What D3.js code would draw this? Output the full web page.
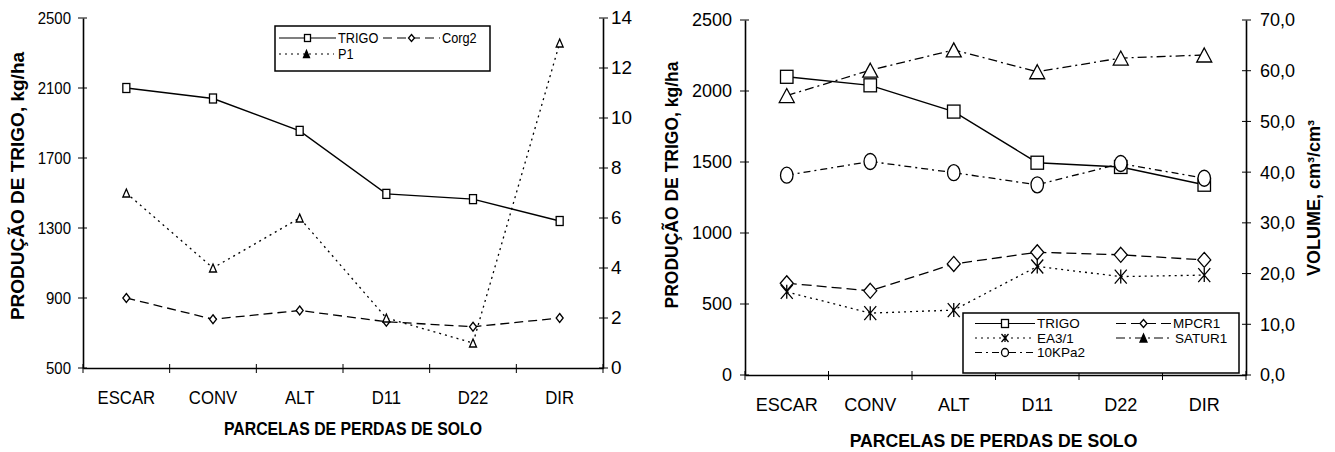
<!DOCTYPE html>
<html>
<head>
<meta charset="utf-8">
<script src="https://cdn.jsdelivr.net/npm/d3@7"></script>
<style>
  html, body { margin: 0; padding: 0; background: #fff; }
  svg { display: block; font-family: "Liberation Sans", Arial, sans-serif; }
</style>
</head>
<body>
<svg id="chart" width="1335" height="452"></svg>
<script>
// Plot categories (soil-loss plots)
const categories = ["ESCAR", "CONV", "ALT", "D11", "D22", "DIR"];

// Wheat yield, kg/ha (left axis of both panels)
const trigo = [2100, 2040, 1855, 1495, 1465, 1340];

// Left panel, secondary axis
const corg2 = [2.8, 1.95, 2.3, 1.85, 1.65, 2.0];
const p1 = [7.0, 4.0, 6.0, 2.0, 1.0, 13.0];

// Right panel, volume axis (cm³/cm³)
const mpcr1 = [18.1, 16.6, 21.9, 24.2, 23.7, 22.7];
const ea31 = [16.4, 12.2, 12.8, 21.4, 19.4, 19.7];
const kpa10 = [39.4, 42.1, 39.9, 37.5, 41.7, 38.8];
const satur1 = [55.1, 60.1, 64.1, 59.8, 62.5, 63.1];

// Tick labels
const ticksLeftA = [500, 900, 1300, 1700, 2100, 2500];
const ticksRightA = [0, 2, 4, 6, 8, 10, 12, 14];
const ticksLeftB = [0, 500, 1000, 1500, 2000, 2500];
const ticksRightB = [0, 10, 20, 30, 40, 50, 60, 70];

const xTitle = "PARCELAS DE PERDAS DE SOLO";
const yTitleLeft = "PRODUÇÃO DE TRIGO, kg/ha";
const yTitleRight = "VOLUME, cm³/cm³";

const svg = d3.select("#chart");
const fmtComma = v => d3.format(".1f")(v).replace(".", ",");

// text helper: positioned group so glyphs can be narrowed horizontally
function label(g, x, y, txt, o = {}) {
  const rot = o.rotate ? ` rotate(${o.rotate})` : "";
  const sx = o.sx || 1;
  return g.append("text")
    .attr("transform", `translate(${x},${y})${rot} scale(${sx},1)`)
    .attr("text-anchor", o.anchor || "middle")
    .attr("font-size", o.size || 16)
    .attr("font-weight", o.bold ? "bold" : "normal")
    .attr("letter-spacing", o.ls || 0)
    .attr("fill", "#000")
    .text(txt);
}

// marker shapes
function marker(g, type, cx, cy, w, h, sw, fill) {
  const m = g.append("g").attr("fill", fill || "#fff").attr("stroke", "#000").attr("stroke-width", sw || 1.3);
  if (type === "square") {
    m.append("rect").attr("x", cx - w / 2).attr("y", cy - h / 2).attr("width", w).attr("height", h);
  } else if (type === "circle") {
    m.append("ellipse").attr("cx", cx).attr("cy", cy).attr("rx", w / 2).attr("ry", h / 2);
  } else if (type === "diamond") {
    m.append("path").attr("d", `M${cx},${cy - h / 2}L${cx + w / 2},${cy}L${cx},${cy + h / 2}L${cx - w / 2},${cy}Z`);
  } else if (type === "triangle") {
    m.append("path").attr("d", `M${cx},${cy - h / 2}L${cx + w / 2},${cy + h / 2}L${cx - w / 2},${cy + h / 2}Z`);
  } else if (type === "asterisk") {
    m.append("path").attr("fill", "none")
      .attr("d", `M${cx - w / 2},${cy - h / 2}L${cx + w / 2},${cy + h / 2}M${cx + w / 2},${cy - h / 2}L${cx - w / 2},${cy + h / 2}M${cx},${cy - h / 2}L${cx},${cy + h / 2}`);
  }
}

function drawPanel(cfg) {
  const g = svg.append("g");
  const x = d3.scaleBand().domain(categories).range([cfg.x0, cfg.x1]);
  const yL = d3.scaleLinear().domain(cfg.yLDomain).range([cfg.yBottom, cfg.yTop]);
  const yR = d3.scaleLinear().domain(cfg.yRDomain).range([cfg.yBottom, cfg.yTop]);
  const cx = c => x(c) + x.bandwidth() / 2;

  // left axis
  const axL = g.append("g").attr("transform", `translate(${cfg.x0},0)`)
    .call(d3.axisLeft(yL).tickValues(cfg.ticksL).tickSize(0).tickFormat(""));
  axL.select(".domain").attr("stroke", "#000").attr("stroke-width", 1.6);
  cfg.ticksL.forEach(t => {
    g.append("line").attr("x1", cfg.x0 - 5).attr("x2", cfg.x0 + 4)
      .attr("y1", yL(t)).attr("y2", yL(t)).attr("stroke", "#000").attr("stroke-width", 1);
    label(g, cfg.x0 - cfg.lGap, yL(t) + cfg.lTick.size * 0.36, String(t),
      { anchor: "end", size: cfg.lTick.size, sx: cfg.lTick.sx });
  });

  // right axis
  const axR = g.append("g").attr("transform", `translate(${cfg.x1},0)`)
    .call(d3.axisRight(yR).tickValues(cfg.ticksR).tickSize(0).tickFormat(""));
  axR.select(".domain").attr("stroke", "#000").attr("stroke-width", 1.6);
  cfg.ticksR.forEach(t => {
    g.append("line").attr("x1", cfg.x1 - 4).attr("x2", cfg.x1 + 5)
      .attr("y1", yR(t)).attr("y2", yR(t)).attr("stroke", "#000").attr("stroke-width", 1);
    label(g, cfg.x1 + cfg.rGap, yR(t) + cfg.rTick.size * 0.36, cfg.rFormat(t),
      { anchor: "start", size: cfg.rTick.size, sx: cfg.rTick.sx });
  });

  // bottom axis
  const axB = g.append("g").attr("transform", `translate(0,${cfg.yBottom})`)
    .call(d3.axisBottom(x).tickSize(0).tickFormat(""));
  axB.select(".domain").attr("stroke", "#000").attr("stroke-width", 1.6);
  const bounds = categories.map(c => x(c)).concat([cfg.x1]);
  bounds.forEach(b => {
    g.append("line").attr("x1", b).attr("x2", b)
      .attr("y1", cfg.yBottom - 4).attr("y2", cfg.yBottom + 5)
      .attr("stroke", "#000").attr("stroke-width", 1);
  });
  categories.forEach(c => {
    label(g, cx(c), cfg.yBottom + cfg.catDy, c, { size: cfg.cat.size, sx: cfg.cat.sx });
  });

  // titles
  label(g, (cfg.x0 + cfg.x1) / 2 + cfg.xTitleDx, cfg.yBottom + cfg.xTitleDy, xTitle,
    { size: cfg.xTitle.size, sx: cfg.xTitle.sx, bold: true });
  label(g, cfg.yTitleL.x, cfg.yTitleL.y, yTitleLeft,
    { size: cfg.yTitleL.size, bold: true, rotate: -90 });
  if (cfg.yTitleR) {
    label(g, cfg.yTitleR.x, cfg.yTitleR.y, yTitleRight,
      { size: cfg.yTitleR.size, bold: true, rotate: -90 });
  }

  // series lines
  cfg.series.forEach(s => {
    const y = s.axis === "L" ? yL : yR;
    const line = d3.line().x((d, i) => cx(categories[i])).y(d => y(d));
    g.append("path").datum(s.values).attr("d", line)
      .attr("fill", "none").attr("stroke", "#000").attr("stroke-width", s.width || 1.3)
      .attr("stroke-dasharray", s.dash || null);
  });
  // series markers
  cfg.series.forEach(s => {
    const y = s.axis === "L" ? yL : yR;
    s.values.forEach((v, i) => marker(g, s.marker, cx(categories[i]), y(v), s.mw, s.mh, s.msw));
  });

  // legend
  const L = cfg.legend;
  g.append("rect").attr("x", L.x).attr("y", L.y).attr("width", L.w).attr("height", L.h)
    .attr("fill", "#fff").attr("stroke", "#000").attr("stroke-width", 1.5);
  L.items.forEach(it => {
    const s = cfg.series.find(d => d.name === it.name);
    g.append("line").attr("x1", it.lx0).attr("x2", it.lx1).attr("y1", it.y).attr("y2", it.y)
      .attr("stroke", "#000").attr("stroke-width", 1.2).attr("stroke-dasharray", s.dash || null);
    marker(g, s.marker, (it.lx0 + it.lx1) / 2, it.y, L.mw, L.mh, 1.3,
      s.marker === "triangle" ? "#000" : "#fff");
    label(g, it.tx, it.y + L.size * 0.36, s.name, { anchor: "start", size: L.size, sx: L.sx });
  });
}

// Left panel: yield vs organic carbon and phosphorus
drawPanel({
  x0: 83, x1: 603, yTop: 18, yBottom: 368,
  yLDomain: [500, 2500], yRDomain: [0, 14],
  ticksL: ticksLeftA, ticksR: ticksRightA, rFormat: v => String(v),
  lGap: 12, rGap: 8,
  lTick: { size: 17, sx: 0.88 }, rTick: { size: 18, sx: 1.05 },
  cat: { size: 19, sx: 0.88 }, catDy: 36,
  xTitle: { size: 18, sx: 0.88 }, xTitleDx: 10, xTitleDy: 67,
  yTitleL: { x: 24, y: 186, size: 19 },
  series: [
    { name: "TRIGO", values: trigo, axis: "L", marker: "square", mw: 7, mh: 9, width: 1.4 },
    { name: "Corg2", values: corg2, axis: "R", marker: "diamond", mw: 7, mh: 9, dash: "9,5" },
    { name: "P1", values: p1, axis: "R", marker: "triangle", mw: 7, mh: 8, dash: "2,4" }
  ],
  legend: {
    x: 275, y: 26, w: 215, h: 45, size: 15, sx: 0.85, mw: 6, mh: 7,
    items: [
      { name: "TRIGO", lx0: 279, lx1: 336, y: 38, tx: 338 },
      { name: "Corg2", lx0: 383, lx1: 440, y: 38, tx: 442 },
      { name: "P1", lx0: 279, lx1: 334, y: 54, tx: 338 }
    ]
  }
});

// Right panel: yield vs soil physical properties
drawPanel({
  x0: 745, x1: 1246, yTop: 20, yBottom: 375,
  yLDomain: [0, 2500], yRDomain: [0, 70],
  ticksL: ticksLeftB, ticksR: ticksRightB, rFormat: fmtComma,
  lGap: 13, rGap: 14,
  lTick: { size: 18, sx: 1 }, rTick: { size: 18, sx: 1 },
  cat: { size: 19, sx: 0.95 }, catDy: 36,
  xTitle: { size: 18, sx: 0.98 }, xTitleDx: -2, xTitleDy: 72,
  yTitleL: { x: 678, y: 185, size: 17.5 },
  yTitleR: { x: 1320, y: 198, size: 18 },
  series: [
    { name: "TRIGO", values: trigo, axis: "L", marker: "square", mw: 12.5, mh: 13, width: 1.4 },
    { name: "MPCR1", values: mpcr1, axis: "R", marker: "diamond", mw: 13, mh: 15, dash: "10,5" },
    { name: "EA3/1", values: ea31, axis: "R", marker: "asterisk", mw: 12, mh: 14, dash: "2,4" },
    { name: "SATUR1", values: satur1, axis: "R", marker: "triangle", mw: 15, mh: 14, dash: "9,4,2,4" },
    { name: "10KPa2", values: kpa10, axis: "R", marker: "circle", mw: 12.5, mh: 16, dash: "7,4,2,4" }
  ],
  legend: {
    x: 963, y: 313, w: 276, h: 60, size: 12.5, sx: 1.08, mw: 7, mh: 8,
    items: [
      { name: "TRIGO", lx0: 975, lx1: 1035, y: 323.5, tx: 1037 },
      { name: "EA3/1", lx0: 975, lx1: 1035, y: 338, tx: 1037 },
      { name: "10KPa2", lx0: 975, lx1: 1035, y: 352.5, tx: 1037 },
      { name: "MPCR1", lx0: 1116, lx1: 1171, y: 323.5, tx: 1173 },
      { name: "SATUR1", lx0: 1116, lx1: 1171, y: 338, tx: 1175 }
    ]
  }
});
</script>
</body>
</html>
